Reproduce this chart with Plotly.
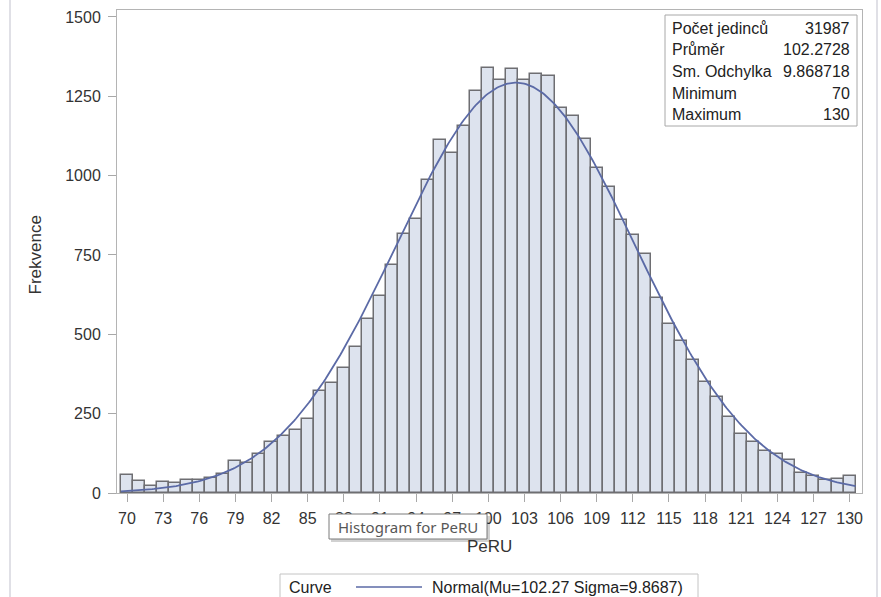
import numpy as np
import plotly.graph_objects as go

# ---- data ----
bin_centers = list(range(70, 131))
frequencies = [
    58, 37, 23, 35, 31, 40, 42, 47, 61, 100,   # 70-79
    95, 124, 162, 179, 197, 232, 321, 347, 393, 460,  # 80-89
    548, 620, 718, 817, 863, 987, 1113, 1072, 1156, 1267,  # 90-99
    1340, 1300, 1335, 1303, 1321, 1314, 1214, 1188, 1117, 1025,  # 100-109
    965, 861, 813, 753, 616, 531, 478, 420, 351, 302,  # 110-119
    239, 187, 160, 132, 124, 103, 63, 53, 40, 43,  # 120-129
    55,  # 130
]
x_ticks = list(range(70, 131, 3))
y_ticks = [0, 250, 500, 750, 1000, 1250, 1500]

stats_labels = ["Počet jedinců", "Průměr", "Sm. Odchylka", "Minimum", "Maximum"]
stats_values = ["31987", "102.2728", "9.868718", "70", "130"]

N_OBS = 31987
MU = 102.2728
SIGMA = 9.868718
BIN_WIDTH = 1.0
curve_label = "Normal(Mu=102.27 Sigma=9.8687)"

# fitted normal curve defined by the parameters shown in the chart
curve_x = np.linspace(69.5, 130.5, 400)
curve_y = N_OBS * BIN_WIDTH / (SIGMA * np.sqrt(2 * np.pi)) * np.exp(-0.5 * ((curve_x - MU) / SIGMA) ** 2)

W, H = 881, 597
L, R, T, B = 117, 862, 10, 493


def px(x):
    return (x - L) / (R - L)


def py(y):
    return (B - y) / (B - T)


fig = go.Figure()
fig.add_trace(go.Bar(
    x=bin_centers, y=frequencies, width=1.0,
    marker=dict(color="#dde3ee", line=dict(color="#6e6e72", width=1.5)),
    hoverinfo="skip", showlegend=False,
))
fig.add_trace(go.Scatter(
    x=curve_x, y=curve_y, mode="lines",
    line=dict(color="#5b6aa6", width=1.8),
    hoverinfo="skip", showlegend=False,
))

font_main = "Liberation Sans, Arial, sans-serif"
axis_common = dict(
    showline=True, linecolor="#b4b4b4", linewidth=1, mirror=True,
    ticks="outside", ticklen=8, tickcolor="#a8a8a8", tickwidth=1,
    showgrid=False, zeroline=False,
    tickfont=dict(family=font_main, size=16, color="#333333"),
)

fig.update_layout(
    width=W, height=H,
    margin=dict(l=L, r=W - R, t=T, b=H - B),
    paper_bgcolor="white", plot_bgcolor="white",
    bargap=0,
    showlegend=False,
    xaxis=dict(range=[69.17, 131.03], tickvals=x_ticks, ticklabelstandoff=3, **axis_common),
    yaxis=dict(range=[0, 1522], tickvals=y_ticks, ticklabelstandoff=4, **axis_common),
)

shapes = []
annotations = []

# page border lines
for xv in (10, 877):
    shapes.append(dict(type="line", xref="paper", yref="paper",
                       x0=px(xv), x1=px(xv), y0=py(-5), y1=py(605),
                       line=dict(color="#d6d6de", width=1.5), layer="above"))

# axis titles
annotations.append(dict(text="Frekvence", xref="paper", yref="paper",
                        x=px(34.5), y=py(255), textangle=-90, showarrow=False,
                        xanchor="center", yanchor="middle",
                        font=dict(family=font_main, size=17, color="#333333")))
annotations.append(dict(text="PeRU", xref="paper", yref="paper",
                        x=px(489.5), y=py(546), showarrow=False,
                        xanchor="center", yanchor="middle",
                        font=dict(family=font_main, size=17, color="#333333")))

# statistics inset
shapes.append(dict(type="rect", xref="paper", yref="paper",
                   x0=px(665), x1=px(857), y0=py(15), y1=py(126),
                   line=dict(color="#a8a8a8", width=1), fillcolor="white", layer="above"))
row_y = [28.3, 50, 71.7, 93.3, 115]
for lab, val, ry in zip(stats_labels, stats_values, row_y):
    annotations.append(dict(text=lab, xref="paper", yref="paper",
                            x=px(670), y=py(ry), showarrow=False,
                            xanchor="left", yanchor="middle",
                            font=dict(family=font_main, size=16, color="#222222")))
    annotations.append(dict(text=val, xref="paper", yref="paper",
                            x=px(852), y=py(ry), showarrow=False,
                            xanchor="right", yanchor="middle",
                            font=dict(family=font_main, size=16, color="#222222")))

# legend (bottom)
shapes.append(dict(type="rect", xref="paper", yref="paper",
                   x0=px(280), x1=px(698), y0=py(574), y1=py(610),
                   line=dict(color="#c4c4c4", width=1), fillcolor="white", layer="above"))
shapes.append(dict(type="line", xref="paper", yref="paper",
                   x0=px(356), x1=px(422), y0=py(587), y1=py(587),
                   line=dict(color="#5b6aa6", width=1.5), layer="above"))
annotations.append(dict(text="Curve", xref="paper", yref="paper",
                        x=px(287), y=py(587), showarrow=False,
                        xanchor="left", yanchor="middle",
                        font=dict(family=font_main, size=16, color="#222222")))
annotations.append(dict(text=curve_label, xref="paper", yref="paper",
                        x=px(430), y=py(587), showarrow=False,
                        xanchor="left", yanchor="middle",
                        font=dict(family=font_main, size=16, color="#222222")))

# hover tooltip seen in the screenshot
shapes.append(dict(type="rect", xref="paper", yref="paper",
                   x0=px(331), x1=px(490), y0=py(516), y1=py(542),
                   line=dict(width=0), fillcolor="rgba(0,0,0,0.18)", layer="above"))
shapes.append(dict(type="rect", xref="paper", yref="paper",
                   x0=px(329), x1=px(487), y0=py(514), y1=py(539),
                   line=dict(color="#7a7a7a", width=1), fillcolor="white", layer="above"))
annotations.append(dict(text="Histogram for PeRU", xref="paper", yref="paper",
                        x=px(408), y=py(526.5), showarrow=False,
                        xanchor="center", yanchor="middle",
                        font=dict(family="Noto Sans, Open Sans, sans-serif", size=15, color="#575757")))

fig.update_layout(shapes=shapes, annotations=annotations)
fig.write_html("out.html")
